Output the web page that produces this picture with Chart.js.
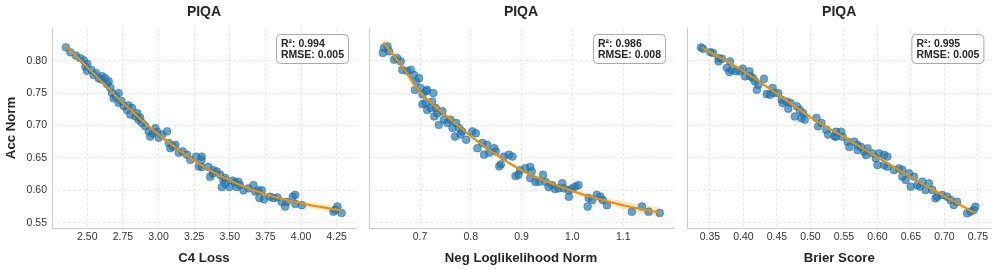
<!DOCTYPE html>
<html>
<head>
<meta charset="utf-8">
<script src="https://cdn.jsdelivr.net/npm/chart.js@4.4.1/dist/chart.umd.min.js"></script>
<style>
  body { margin: 0; background: #fff; }
  canvas { position: absolute; top: 0; }
</style>
</head>
<body>
<canvas id="c1" width="362" height="269" style="left:0px"></canvas>
<canvas id="c2" width="318" height="269" style="left:362px"></canvas>
<canvas id="c3" width="316" height="269" style="left:680px"></canvas>
<script>
const titles = ['PIQA', 'PIQA', 'PIQA']
const xLabels = ['C4 Loss', 'Neg Loglikelihood Norm', 'Brier Score']
const yLabel = 'Acc Norm'
const r2Values = ['0.994', '0.986', '0.995']
const rmseValues = ['0.005', '0.008', '0.005']

const yTicks = [0.55, 0.60, 0.65, 0.70, 0.75, 0.80]
const xTicks1 = [2.50, 2.75, 3.00, 3.25, 3.50, 3.75, 4.00, 4.25]
const xTicks2 = [0.7, 0.8, 0.9, 1.0, 1.1]
const xTicks3 = [0.35, 0.40, 0.45, 0.50, 0.55, 0.60, 0.65, 0.70, 0.75]

// C4 Loss scatter
const c4X = [2.350, 2.381, 2.420, 2.451, 2.475, 2.486, 2.498, 2.500, 2.528, 2.545, 2.560, 2.580, 2.600, 2.603, 2.626, 2.638, 2.650, 2.662, 2.673, 2.685, 2.700, 2.720, 2.720, 2.740, 2.756, 2.779, 2.790, 2.802, 2.814, 2.837, 2.850, 2.861, 2.870, 2.884, 2.907, 2.931, 2.942, 2.960, 2.978, 2.990, 3.001, 3.025, 3.060, 3.072, 3.083, 3.100, 3.118, 3.142, 3.170, 3.200, 3.223, 3.263, 3.282, 3.301, 3.303, 3.303, 3.350, 3.362, 3.380, 3.385, 3.409, 3.432, 3.444, 3.455, 3.467, 3.470, 3.497, 3.520, 3.537, 3.549, 3.560, 3.572, 3.596, 3.631, 3.666, 3.678, 3.701, 3.708, 3.725, 3.740, 3.783, 3.806, 3.834, 3.865, 3.888, 3.900, 3.942, 3.959, 3.960, 4.006, 4.228, 4.240, 4.256, 4.285]
const c4Y = [0.8207, 0.813, 0.808, 0.804, 0.8006, 0.791, 0.7846, 0.795, 0.786, 0.778, 0.781, 0.773, 0.771, 0.776, 0.773, 0.764, 0.768, 0.758, 0.750, 0.742, 0.745, 0.750, 0.735, 0.738, 0.730, 0.724, 0.731, 0.717, 0.727, 0.714, 0.719, 0.709, 0.712, 0.704, 0.699, 0.691, 0.683, 0.688, 0.696, 0.690, 0.681, 0.686, 0.691, 0.673, 0.665, 0.668, 0.670, 0.658, 0.660, 0.655, 0.647, 0.652, 0.637, 0.647, 0.652, 0.636, 0.636, 0.621, 0.626, 0.631, 0.629, 0.624, 0.605, 0.616, 0.619, 0.610, 0.605, 0.615, 0.612, 0.605, 0.613, 0.608, 0.600, 0.603, 0.608, 0.598, 0.600, 0.588, 0.600, 0.586, 0.590, 0.588, 0.589, 0.582, 0.575, 0.582, 0.590, 0.593, 0.579, 0.577, 0.567, 0.570, 0.575, 0.565]
const c4FitX = [2.35, 2.50, 2.75, 3.00, 3.25, 3.50, 3.75, 4.00, 4.28]
const c4FitY = [0.822, 0.790, 0.735, 0.686, 0.646, 0.615, 0.594, 0.580, 0.569]
const c4BandHi = [0.826, 0.793, 0.737, 0.688, 0.648, 0.617, 0.597, 0.584, 0.575]
const c4BandLo = [0.818, 0.787, 0.733, 0.684, 0.644, 0.613, 0.591, 0.576, 0.563]

// Neg loglikelihood norm scatter
const nllX = [0.627, 0.629, 0.636, 0.639, 0.649, 0.655, 0.662, 0.665, 0.675, 0.682, 0.688, 0.692, 0.698, 0.690, 0.701, 0.705, 0.712, 0.714, 0.726, 0.705, 0.711, 0.714, 0.721, 0.724, 0.728, 0.731, 0.734, 0.737, 0.744, 0.747, 0.754, 0.760, 0.764, 0.769, 0.771, 0.777, 0.783, 0.780, 0.791, 0.803, 0.810, 0.813, 0.823, 0.826, 0.832, 0.836, 0.846, 0.849, 0.859, 0.856, 0.865, 0.875, 0.882, 0.888, 0.894, 0.897, 0.907, 0.917, 0.920, 0.917, 0.927, 0.934, 0.942, 0.947, 0.953, 0.960, 0.966, 0.973, 0.980, 0.983, 0.993, 0.993, 0.999, 1.006, 1.012, 1.030, 1.032, 1.039, 1.048, 1.055, 1.060, 1.068, 1.117, 1.137, 1.150, 1.172]
const nllY = [0.812, 0.8196, 0.822, 0.8145, 0.8016, 0.804, 0.799, 0.786, 0.784, 0.786, 0.778, 0.768, 0.773, 0.755, 0.758, 0.748, 0.753, 0.755, 0.750, 0.733, 0.735, 0.724, 0.727, 0.737, 0.714, 0.727, 0.719, 0.701, 0.722, 0.709, 0.704, 0.709, 0.696, 0.683, 0.704, 0.696, 0.691, 0.686, 0.678, 0.691, 0.688, 0.665, 0.673, 0.655, 0.670, 0.658, 0.665, 0.660, 0.640, 0.637, 0.652, 0.655, 0.652, 0.622, 0.624, 0.631, 0.634, 0.636, 0.629, 0.619, 0.613, 0.613, 0.624, 0.613, 0.605, 0.608, 0.602, 0.603, 0.611, 0.603, 0.600, 0.590, 0.603, 0.606, 0.608, 0.575, 0.588, 0.585, 0.593, 0.590, 0.585, 0.577, 0.567, 0.575, 0.567, 0.565]
const nllFitX = [0.628, 0.665, 0.700, 0.764, 0.816, 0.900, 1.000, 1.100, 1.172]
const nllFitY = [0.828, 0.791, 0.752, 0.707, 0.674, 0.631, 0.599, 0.577, 0.5655]
const nllBandHi = [0.836, 0.796, 0.756, 0.710, 0.677, 0.634, 0.603, 0.583, 0.5735]
const nllBandLo = [0.820, 0.786, 0.748, 0.704, 0.671, 0.628, 0.595, 0.571, 0.5575]

// Brier score scatter
const brierX = [0.3366, 0.3396, 0.3505, 0.3545, 0.363, 0.363, 0.368, 0.3753, 0.380, 0.379, 0.3827, 0.389, 0.395, 0.399, 0.4025, 0.409, 0.410, 0.4139, 0.4173, 0.420, 0.4223, 0.4307, 0.4347, 0.4396, 0.4436, 0.4455, 0.452, 0.457, 0.4584, 0.4644, 0.4669, 0.4703, 0.4767, 0.480, 0.4841, 0.4866, 0.489, 0.4915, 0.509, 0.5114, 0.5164, 0.5238, 0.5263, 0.5362, 0.5382, 0.5382, 0.5456, 0.548, 0.5555, 0.558, 0.5654, 0.5703, 0.5703, 0.5753, 0.5802, 0.5828, 0.5852, 0.5926, 0.5976, 0.600, 0.6025, 0.610, 0.6149, 0.610, 0.6149, 0.6248, 0.6322, 0.6371, 0.6371, 0.6422, 0.6471, 0.6496, 0.6545, 0.6594, 0.6634, 0.6669, 0.6719, 0.6768, 0.6817, 0.6867, 0.6891, 0.6966, 0.704, 0.709, 0.7139, 0.7188, 0.7337, 0.7387, 0.7436, 0.7461]
const brierY = [0.8207, 0.8185, 0.8134, 0.812, 0.804, 0.799, 0.803, 0.789, 0.799, 0.7826, 0.786, 0.7836, 0.7836, 0.7877, 0.776, 0.7836, 0.776, 0.7733, 0.768, 0.755, 0.763, 0.772, 0.7486, 0.7475, 0.758, 0.750, 0.750, 0.740, 0.7347, 0.737, 0.726, 0.7347, 0.714, 0.7296, 0.724, 0.7116, 0.719, 0.709, 0.7116, 0.6988, 0.704, 0.6935, 0.686, 0.6833, 0.6904, 0.6827, 0.6904, 0.6827, 0.675, 0.667, 0.675, 0.670, 0.6622, 0.667, 0.6596, 0.6545, 0.6648, 0.657, 0.6494, 0.639, 0.657, 0.6545, 0.652, 0.639, 0.6364, 0.6313, 0.6339, 0.6313, 0.621, 0.6159, 0.6262, 0.6056, 0.621, 0.6082, 0.6056, 0.6133, 0.6005, 0.6108, 0.6005, 0.5877, 0.5902, 0.5928, 0.5902, 0.585, 0.5773, 0.5824, 0.5645, 0.567, 0.5696, 0.5747]
const brierFitX = [0.337, 0.40, 0.45, 0.50, 0.55, 0.60, 0.65, 0.70, 0.745]
const brierFitY = [0.821, 0.784, 0.749, 0.713, 0.682, 0.651, 0.620, 0.591, 0.565]
const brierBandHi = [0.824, 0.786, 0.751, 0.7145, 0.6835, 0.6525, 0.622, 0.594, 0.569]
const brierBandLo = [0.818, 0.782, 0.747, 0.7115, 0.6805, 0.6495, 0.618, 0.588, 0.561]

const FONT = "'Liberation Sans', Arial, Helvetica, sans-serif"
Chart.defaults.font.family = FONT

function zip(xs, ys) {
  return xs.map(function (x, i) {
    return { x: x, y: ys[i] }
  })
}

function makeChart(canvas, p) {
  const panelText = {
    id: 'panelText',
    afterDraw: function (chart) {
      const ctx = chart.ctx
      const a = chart.chartArea
      ctx.save()
      ctx.fillStyle = '#262626'
      ctx.font = 'bold 14px ' + FONT
      ctx.textAlign = 'center'
      ctx.textBaseline = 'alphabetic'
      ctx.fillText(p.title, (a.left + a.right) / 2, 16)

      const bw = 72, bh = 29
      const bx = a.right - 8 - bw, by = a.top + 6
      ctx.beginPath()
      ctx.roundRect(bx + 0.5, by + 0.5, bw, bh, 4)
      ctx.fillStyle = 'rgba(255,255,255,0.9)'
      ctx.fill()
      ctx.strokeStyle = '#aaaaaa'
      ctx.lineWidth = 1
      ctx.stroke()
      ctx.fillStyle = '#262626'
      ctx.font = 'bold 10.5px ' + FONT
      ctx.textAlign = 'left'
      ctx.fillText('R²: ' + p.r2, bx + 5, by + 12.5)
      ctx.fillText('RMSE: ' + p.rmse, bx + 5, by + 23.5)
      ctx.restore()
    }
  }

  return new Chart(canvas, {
    type: 'scatter',
    data: {
      datasets: [
        {
          type: 'line',
          data: zip(p.fitX, p.bandHi),
          borderColor: 'rgba(0,0,0,0)',
          borderWidth: 0,
          pointRadius: 0,
          fill: '+1',
          backgroundColor: 'rgba(247,190,100,0.38)',
          cubicInterpolationMode: 'monotone',
          order: 3
        },
        {
          type: 'line',
          data: zip(p.fitX, p.bandLo),
          borderColor: 'rgba(0,0,0,0)',
          borderWidth: 0,
          pointRadius: 0,
          fill: false,
          cubicInterpolationMode: 'monotone',
          order: 4
        },
        {
          data: zip(p.x, p.y),
          pointRadius: 3.9,
          backgroundColor: 'rgba(31,119,180,0.68)',
          borderColor: 'rgba(25,100,160,0.75)',
          borderWidth: 0.6,
          order: 2
        },
        {
          type: 'line',
          data: zip(p.fitX, p.fitY),
          borderColor: '#e8900a',
          borderWidth: 2.2,
          pointRadius: 0,
          fill: false,
          cubicInterpolationMode: 'monotone',
          order: 1
        }
      ]
    },
    options: {
      responsive: false,
      animation: false,
      events: [],
      layout: { padding: { top: 28, right: p.padRight, left: 0, bottom: 0 } },
      plugins: { legend: { display: false }, tooltip: { enabled: false } },
      scales: {
        x: {
          type: 'linear',
          min: p.xMin,
          max: p.xMax,
          afterFit: function (s) { s.height = 41 },
          afterBuildTicks: function (s) {
            s.ticks = p.xTicks.map(function (v) { return { value: v } })
          },
          ticks: {
            padding: 3,
            color: '#333',
            font: { size: 10.5 },
            maxRotation: 0,
            autoSkip: false,
            callback: function (v) { return v.toFixed(p.xDec) }
          },
          grid: { color: '#e4e4e4', drawTicks: false, lineWidth: 0.8 },
          border: { color: '#cccccc', dash: [3, 2] },
          title: {
            display: true,
            text: p.xLabel,
            color: '#262626',
            font: { size: 13.2, weight: 'bold' },
            padding: { top: 4, bottom: 3 }
          }
        },
        y: {
          min: 0.5418,
          max: 0.8505,
          afterFit: function (s) { s.width = p.yWidth },
          afterBuildTicks: function (s) {
            s.ticks = yTicks.map(function (v) { return { value: v } })
          },
          ticks: {
            display: p.showY,
            padding: 5,
            color: '#333',
            font: { size: 10.5 },
            callback: function (v) { return v.toFixed(2) }
          },
          grid: { color: '#e4e4e4', drawTicks: false, lineWidth: 0.8 },
          border: { color: '#cccccc', dash: [3, 2] },
          title: {
            display: p.showY,
            text: yLabel,
            color: '#262626',
            font: { size: 13.2, weight: 'bold' },
            padding: { top: 3, bottom: 0 }
          }
        }
      }
    },
    plugins: [panelText]
  })
}

makeChart(document.getElementById('c1'), {
  title: titles[0], xLabel: xLabels[0], r2: r2Values[0], rmse: rmseValues[0],
  x: c4X, y: c4Y, fitX: c4FitX, fitY: c4FitY, bandHi: c4BandHi, bandLo: c4BandLo,
  xTicks: xTicks1, xDec: 2, xMin: 2.252, xMax: 4.386,
  padRight: 6, yWidth: 52, showY: true
})
makeChart(document.getElementById('c2'), {
  title: titles[1], xLabel: xLabels[1], r2: r2Values[1], rmse: rmseValues[1],
  x: nllX, y: nllY, fitX: nllFitX, fitY: nllFitY, bandHi: nllBandHi, bandLo: nllBandLo,
  xTicks: xTicks2, xDec: 1, xMin: 0.5996, xMax: 1.198,
  padRight: 7, yWidth: 7, showY: false
})
makeChart(document.getElementById('c3'), {
  title: titles[2], xLabel: xLabels[2], r2: r2Values[2], rmse: rmseValues[2],
  x: brierX, y: brierY, fitX: brierFitX, fitY: brierFitY, bandHi: brierBandHi, bandLo: brierBandLo,
  xTicks: xTicks3, xDec: 2, xMin: 0.3158, xMax: 0.770,
  padRight: 3, yWidth: 7, showY: false
})
</script>
</body>
</html>
